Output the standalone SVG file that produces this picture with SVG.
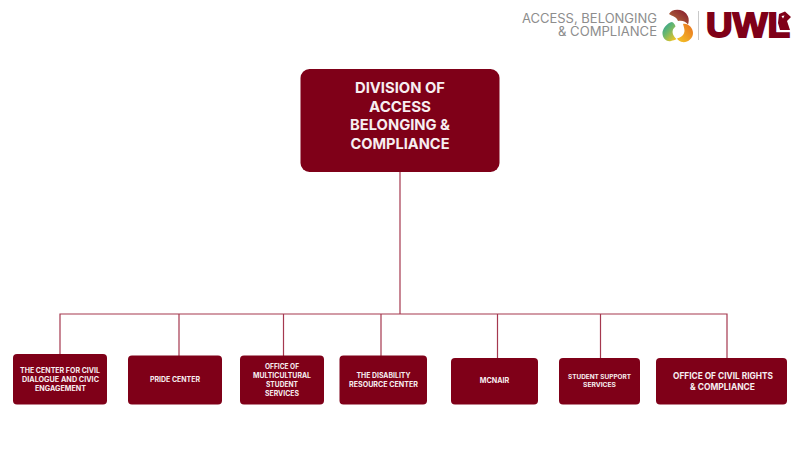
<svg xmlns="http://www.w3.org/2000/svg" width="800" height="450" viewBox="0 0 800 450">
<style>
text{font-family:"Inter","Liberation Sans",sans-serif;font-weight:700;fill:#f7eef0;text-anchor:middle}
.b{fill:#7f0018}
.t1{font-size:14.800px}
.s{font-size:7px}
.m{font-size:9px}
.c{fill:none;stroke:#a5384f;stroke-width:1.2}
.g{fill:#8d8d8d;font-weight:400;font-size:12.400px;text-anchor:end}
</style>
<defs>
<linearGradient id="a" x1="0" y1="1" x2="1" y2="0"><stop offset="0" stop-color="#b87a3c"/><stop offset="1" stop-color="#84142c"/></linearGradient>
<linearGradient id="d" x1="0" y1="0" x2=".8" y2="1"><stop offset="0" stop-color="#1f9e9e"/><stop offset=".5" stop-color="#6fb86a"/><stop offset="1" stop-color="#f2c422"/></linearGradient>
<linearGradient id="e" x1="1" y1="0" x2="0" y2="1"><stop offset="0" stop-color="#e8701f"/><stop offset="1" stop-color="#f5c828"/></linearGradient>
</defs>
<g id="connectors">
<path class="c" d="M400 172V314M60 355V314H727V358M179 314V356M283.500 314V356M381 314V356M497.500 314V358M600.500 314V358"/>
</g>
<g id="logo">
<text class="g" y="23"><tspan x="657" textLength="135" lengthAdjust="spacingAndGlyphs">ACCESS, BELONGING</tspan><tspan x="657" y="35.500" textLength="99" lengthAdjust="spacingAndGlyphs">&amp; COMPLIANCE</tspan></text>
<path fill="url(#a)" d="M669 14C671 9.500 678 8.500 683 11C688 14 690 19 688 24.500C686 21.500 682 20 678 21C677 17 672 16 669 14Z"/>
<path fill="url(#d)" d="M672 22C667 23 662 29 662.500 34C663 39 667 42 671 41C673 40.500 675 40 676.500 39C672 35 671 30 675.500 26.500C675 24.500 674 23 672 22Z"/>
<path fill="url(#e)" d="M683 24C688 23 693 28 693 33C693 39 687 43 682 42C680 41.500 678 40.500 677 38.500C681 37.500 684 35.500 684.500 31C684.500 28 683.500 26 683 24Z"/>
<path stroke="#c9c9c9" stroke-width="1" d="M698.500 11V40"/>
<text x="748" y="37" textLength="84" lengthAdjust="spacingAndGlyphs" style="font-family:'Liberation Sans',sans-serif;font-size:35px;font-weight:700;fill:#7f0018;stroke:#7f0018;stroke-width:1.800">UWL</text>
<path fill="#7f0018" d="M778 23L779 14L785 11.500L791 17L787 21L790 30L780 30Z"/>
<path fill="#fff" d="M781.500 16L784.500 15.500L783 18.500Z"/>
</g>
<g id="main">
<rect class="b" x="300.500" y="69" width="199" height="103" rx="9"/>
<text class="t1" x="400" y="93" textLength="90" lengthAdjust="spacingAndGlyphs">DIVISION OF</text>
<text class="t1" x="400" y="112" textLength="62" lengthAdjust="spacingAndGlyphs">ACCESS</text>
<text class="t1" x="400" y="130" textLength="100" lengthAdjust="spacingAndGlyphs">BELONGING &amp;</text>
<text class="t1" x="400" y="148.500" textLength="99" lengthAdjust="spacingAndGlyphs">COMPLIANCE</text>
</g>
<g id="n1">
<rect class="b" x="13" y="354" width="94" height="50.500" rx="4"/>
<text class="s" x="60" y="373" textLength="80" lengthAdjust="spacingAndGlyphs">THE CENTER FOR CIVIL</text>
<text class="s" x="60.500" y="382" textLength="77" lengthAdjust="spacingAndGlyphs">DIALOGUE AND CIVIC</text>
<text class="s" x="60.500" y="391" textLength="51" lengthAdjust="spacingAndGlyphs">ENGAGEMENT</text>
</g>
<g id="n2">
<rect class="b" x="128" y="355.500" width="94" height="49" rx="4"/>
<text class="s" x="175" y="382" textLength="50" lengthAdjust="spacingAndGlyphs">PRIDE CENTER</text>
</g>
<g id="n3">
<rect class="b" x="240" y="355.500" width="84" height="49" rx="4"/>
<text class="s" x="282" y="369" textLength="34" lengthAdjust="spacingAndGlyphs">OFFICE OF</text>
<text class="s" x="282" y="378" textLength="58" lengthAdjust="spacingAndGlyphs">MULTICULTURAL</text>
<text class="s" x="282" y="387" textLength="32" lengthAdjust="spacingAndGlyphs">STUDENT</text>
<text class="s" x="282" y="396" textLength="34" lengthAdjust="spacingAndGlyphs">SERVICES</text>
</g>
<g id="n4">
<rect class="b" x="339.500" y="355.500" width="87.500" height="49" rx="4"/>
<text class="s" x="383.500" y="377.500" textLength="54" lengthAdjust="spacingAndGlyphs">THE DISABILITY</text>
<text class="s" x="383.500" y="387" textLength="69" lengthAdjust="spacingAndGlyphs">RESOURCE CENTER</text>
</g>
<g id="n5">
<rect class="b" x="451" y="358" width="87" height="46.500" rx="4"/>
<text class="s" x="494.500" y="383" textLength="29.500" lengthAdjust="spacingAndGlyphs">MCNAIR</text>
</g>
<g id="n6">
<rect class="b" x="559" y="358" width="81" height="46.500" rx="4"/>
<text class="s" x="599.500" y="379" style="font-size:6.400px" textLength="63" lengthAdjust="spacingAndGlyphs">STUDENT SUPPORT</text>
<text class="s" x="599.500" y="387" style="font-size:6.400px" textLength="33" lengthAdjust="spacingAndGlyphs">SERVICES</text>
</g>
<g id="n7">
<rect class="b" x="656" y="358" width="131" height="46.500" rx="4"/>
<text class="m" x="723" y="379" textLength="100" lengthAdjust="spacingAndGlyphs">OFFICE OF CIVIL RIGHTS</text>
<text class="m" x="722.500" y="390" textLength="65" lengthAdjust="spacingAndGlyphs">&amp; COMPLIANCE</text>
</g>
</svg>
